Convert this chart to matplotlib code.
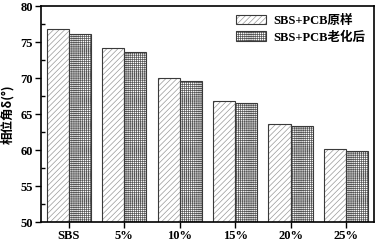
import matplotlib
matplotlib.use("Agg")
import matplotlib.pyplot as plt
import numpy as np

categories = ["SBS", "5%", "10%", "15%", "20%", "25%"]
original = [76.75, 74.15, 69.95, 66.8, 63.6, 60.1]
aged = [76.15, 73.65, 69.6, 66.5, 63.35, 59.9]
series_names = ["SBS+PCB原样", "SBS+PCB老化后"]
ylabel = "相位角δ(°)"

plt.rcParams['hatch.linewidth'] = 0.5
fam = ['Liberation Serif', 'Noto Sans CJK SC']

fig = plt.figure(figsize=(3.78, 2.43), dpi=100)
ax = fig.add_axes([0.1085, 0.0864, 0.8805, 0.8886])

x = np.arange(len(categories))
w = 0.4
h1 = ax.bar(x - w/2, original, w, color='white', edgecolor='#999999', hatch='//////', lw=0)
o1 = ax.bar(x - w/2, original, w, fill=False, edgecolor='#3a3a3a', lw=0.8)
h2 = ax.bar(x + w/2, aged, w, color='white', edgecolor='#555555', hatch='++++++++', lw=0)
o2 = ax.bar(x + w/2, aged, w, fill=False, edgecolor='#3a3a3a', lw=0.8)

ax.set_xlim(-0.5, 5.5)
ax.set_ylim(50, 80)
ax.set_yticks(np.arange(50, 81, 5))
ax.set_yticks(np.arange(52.5, 80, 5), minor=True)
ax.set_xticks(x)
ax.set_xticklabels(categories)
ax.tick_params(axis='y', which='major', direction='out', length=4, width=1, pad=2)
ax.tick_params(axis='y', which='minor', direction='in', length=3, width=1)
ax.tick_params(axis='x', which='major', direction='out', length=4, width=1, pad=1.5)
ax.tick_params(labelsize=9)
for lab in ax.get_xticklabels() + ax.get_yticklabels():
    lab.set_fontfamily(fam)
    lab.set_fontweight('bold')
for s in ax.spines.values():
    s.set_linewidth(1.2)

ax.set_ylabel(ylabel, family=['Noto Sans CJK SC', 'DejaVu Sans'], fontsize=9, fontweight='bold', labelpad=4)

leg = ax.legend([(h1[0], o1[0]), (h2[0], o2[0])], series_names, loc='upper right',
                frameon=False, prop={'family': fam, 'size': 9, 'weight': 'bold'},
                handlelength=2.4, handleheight=0.8, handletextpad=0.6, labelspacing=0.35,
                borderaxespad=0.3)

fig.savefig("out.png", dpi=100)
